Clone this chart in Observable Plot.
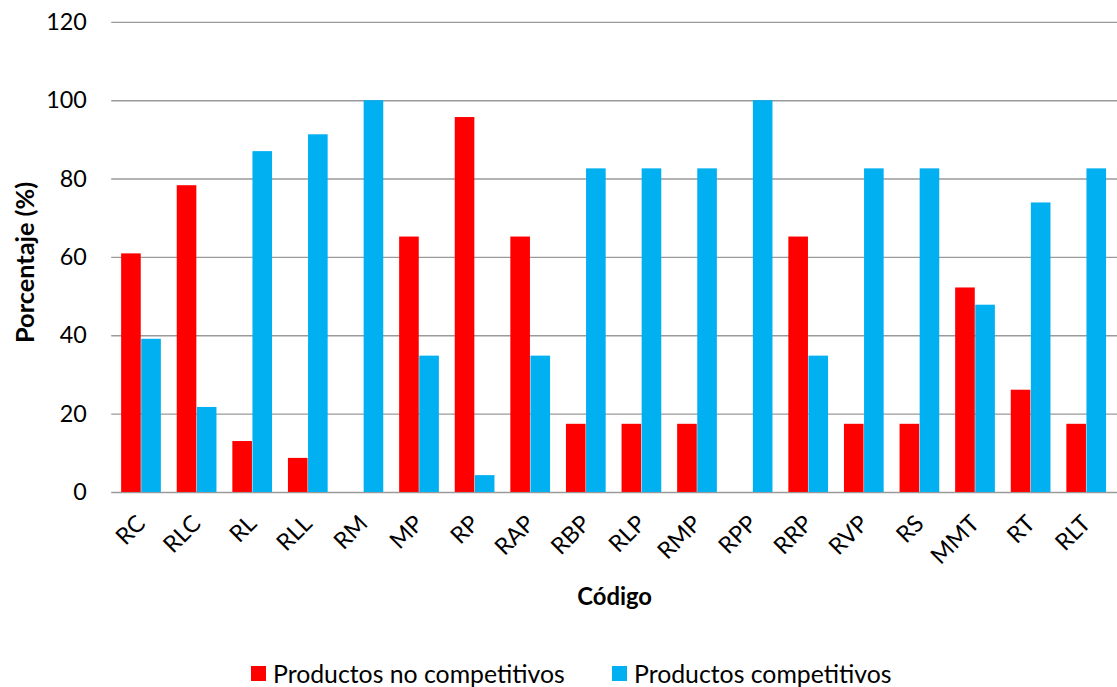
<!DOCTYPE html>
<html>
<head>
<meta charset="utf-8">
<script src="https://cdn.jsdelivr.net/npm/d3@7"></script>
<script src="https://cdn.jsdelivr.net/npm/@observablehq/plot@0.6"></script>
<style>
  html, body { margin: 0; padding: 0; background: #fff; overflow: hidden; width: 1117px; height: 687px; }
  body { position: relative; font-family: Lato, "Open Sans", sans-serif; }
  #chart svg { display: block; }
  .legend-item { position: absolute; top: 659px; display: flex; align-items: center; font-size: 24.8px; color: #000; white-space: nowrap; }
  .legend-item .swatch { width: 15px; height: 15px; margin-right: 7px; }
</style>
</head>
<body>
<div id="chart"></div>
<div id="legend"></div>
<script>
// Códigos de producto (eje x)
const codigos = ["RC", "RLC", "RL", "RLL", "RM", "MP", "RP", "RAP", "RBP", "RLP", "RMP", "RPP", "RRP", "RVP", "RS", "MMT", "RT", "RLT"];

// Porcentaje de productos no competitivos por código
const noCompetitivos = [60.9, 78.3, 13.0, 8.7, 0, 65.2, 95.7, 65.2, 17.4, 17.4, 17.4, 0, 65.2, 17.4, 17.4, 52.2, 26.1, 17.4];

// Porcentaje de productos competitivos por código
const competitivos = [39.1, 21.7, 87.0, 91.3, 100, 34.8, 4.3, 34.8, 82.6, 82.6, 82.6, 100, 34.8, 82.6, 82.6, 47.8, 73.9, 82.6];

// Marcas del eje y
const yTicks = [0, 20, 40, 60, 80, 100, 120];

// Series y colores
const series = ["Productos no competitivos", "Productos competitivos"];
const colores = ["#FF0000", "#00B0F0"];

const filas = [];
codigos.forEach((c, i) => {
  filas.push({codigo: c, serie: series[0], valor: noCompetitivos[i]});
  filas.push({codigo: c, serie: series[1], valor: competitivos[i]});
});

const FONT = "Lato, 'Open Sans', sans-serif";
const half = 20.25; // media banda: cada barra ocupa la mitad del grupo

const chart = Plot.plot({
  width: 1125,
  height: 645,
  marginTop: 22,
  marginBottom: 149.5,
  marginLeft: 112,
  marginRight: 0,
  style: {fontFamily: FONT, fontSize: "24px", color: "#000", background: "#fff"},
  x: {type: "band", domain: codigos, paddingInner: 0.28, paddingOuter: 0.14, axis: null},
  y: {domain: [0, 120], axis: null},
  marks: [
    Plot.ruleY(yTicks, {stroke: "#9a9a9a", strokeWidth: 1.4}),
    Plot.barY(filas.filter(d => d.serie === series[0]), {x: "codigo", y: "valor", fill: colores[0], insetRight: half}),
    Plot.barY(filas.filter(d => d.serie === series[1]), {x: "codigo", y: "valor", fill: colores[1], insetLeft: half}),
    Plot.axisY({ticks: yTicks, tickSize: 0, tickPadding: 25, label: null, fontSize: 23.5}),
    // Etiquetas de código giradas 45°
    Plot.text(codigos, {x: d => d, frameAnchor: "bottom", dy: 27.5, rotate: -45, textAnchor: "end", lineAnchor: "middle", fontSize: 23.5}),
    Plot.text(["Código"], {frameAnchor: "bottom", dy: 106, lineAnchor: "middle", fontWeight: "bold", fontSize: 24}),
    Plot.text(["Porcentaje (%)"], {frameAnchor: "left", dx: -86, dy: 5, rotate: -90, textAnchor: "middle", lineAnchor: "middle", fontWeight: "bold", fontSize: 25.5})
  ]
});
document.getElementById("chart").appendChild(chart);

// Leyenda
const legend = document.getElementById("legend");
const posiciones = [251, 612];
series.forEach((s, i) => {
  const item = document.createElement("div");
  item.className = "legend-item";
  item.style.left = posiciones[i] + "px";
  const sw = document.createElement("span");
  sw.className = "swatch";
  sw.style.background = colores[i];
  const label = document.createElement("span");
  label.textContent = s;
  item.appendChild(sw);
  item.appendChild(label);
  legend.appendChild(item);
});
</script>
</body>
</html>
